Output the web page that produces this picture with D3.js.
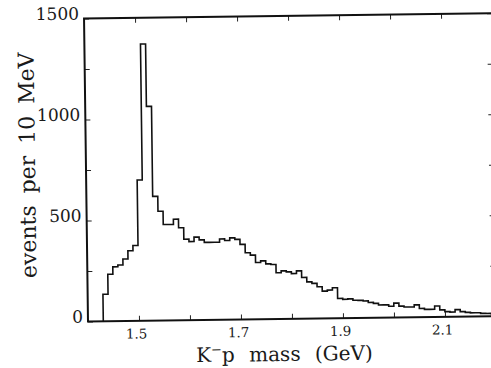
<!DOCTYPE html>
<html>
<head>
<meta charset="utf-8">
<script src="https://cdn.jsdelivr.net/npm/d3@7"></script>
<style>
    body { margin: 0; background: #fff; }
    svg { display: block; }
    text { font-family: 'DejaVu Serif', serif; fill: #1a1a1a; }
    .tick line { stroke: #222; stroke-width: 1; }
</style>
</head>
<body>
<script>
// Lower edge of every 10 MeV bin of the K-p mass (GeV)
const binLow = [
    1.43, 1.44, 1.45, 1.46, 1.47, 1.48, 1.49, 1.50, 1.51, 1.52,
    1.53, 1.54, 1.55, 1.56, 1.57, 1.58, 1.59, 1.60, 1.61, 1.62,
    1.63, 1.64, 1.65, 1.66, 1.67, 1.68, 1.69, 1.70, 1.71, 1.72,
    1.73, 1.74, 1.75, 1.76, 1.77, 1.78, 1.79, 1.80, 1.81, 1.82,
    1.83, 1.84, 1.85, 1.86, 1.87, 1.88, 1.89, 1.90, 1.91, 1.92,
    1.93, 1.94, 1.95, 1.96, 1.97, 1.98, 1.99, 2.00, 2.01, 2.02,
    2.03, 2.04, 2.05, 2.06, 2.07, 2.08, 2.09, 2.10, 2.11, 2.12,
    2.13, 2.14, 2.15, 2.16, 2.17, 2.18, 2.19
];
const lastEdge = 2.20; // upper edge of the last bin

// Events in each bin
const events = [
    134, 233, 269, 278, 307, 348, 373, 697, 1370, 1061,
    615, 541, 475, 475, 501, 458, 401, 389, 411, 397,
    384, 384, 384, 400, 392, 405, 397, 372, 330, 318,
    281, 289, 274, 270, 229, 238, 233, 224, 237, 204,
    182, 174, 157, 135, 140, 151, 98, 93, 95, 88,
    87, 84, 76, 71, 63, 63, 56, 71, 56, 51,
    51, 61, 43, 38, 38, 54, 35, 26, 23, 35,
    25, 21, 18, 18, 15, 14, 12
];

// Axis ticks and labels
const xDomain = [1.4, 2.2];
const yDomain = [0, 1500];
const xTickValues = [1.5, 1.6, 1.7, 1.8, 1.9, 2.0, 2.1];
const xTickLabels = ['1.5', '1.7', '1.9', '2.1'];
const yTickValues = [0, 250, 500, 750, 1000, 1250, 1500];
const yTickLabels = [0, 500, 1000, 1500];

const margin = { top: 18.5, left: 88 };
const width = 408;
const height = 303;

const svg = d3.select('body').append('svg').attr('width', 491).attr('height', 368);

// the scanned figure is slightly tilted, so rotate the whole plot a bit
const g = svg
    .append('g')
    .attr('transform', `translate(${margin.left},${margin.top}) rotate(-0.75, 0, ${height})`);

// Scales
const xscale = d3.scaleLinear().domain(xDomain).range([0, width]);
const yscale = d3.scaleLinear().domain(yDomain).range([height, 0]);

// Axes, all ticks point inward
const xaxis = d3
    .axisBottom(xscale)
    .tickValues(xTickValues)
    .tickSize(-5)
    .tickPadding(8)
    .tickFormat((d) => (xTickLabels.includes(d.toFixed(1)) ? d.toFixed(1) : ''));
const g_xaxis = g.append('g').attr('transform', `translate(0,${height})`).call(xaxis);
g_xaxis.selectAll('text').attr('dx', -3).style('font-size', '13.5px');

const yaxis = d3
    .axisLeft(yscale)
    .tickValues(yTickValues)
    .tickSize(-5)
    .tickPadding(5)
    .tickFormat((d) => (yTickLabels.includes(d) ? d : ''));
const g_yaxis = g.append('g').call(yaxis);
g_yaxis.selectAll('text').attr('y', -5).style('font-size', '17px');

const g_top = g.append('g').call(d3.axisTop(xscale).tickValues(xTickValues).tickSize(-5).tickFormat(''));
const g_right = g
    .append('g')
    .attr('transform', `translate(${width},0)`)
    .call(d3.axisRight(yscale).tickValues(yTickValues).tickSize(-5).tickFormat(''));

[g_xaxis, g_yaxis, g_top, g_right].forEach((a) => {
    a.select('.domain').remove();
    a.attr('font-family', null).attr('font-size', null);
});

// Frame
g.append('rect')
    .attr('width', width)
    .attr('height', height)
    .attr('fill', 'none')
    .attr('stroke', '#111')
    .attr('stroke-width', 2);

// Histogram as a step line
const steps = [[binLow[0], 0]]
    .concat(binLow.map((m, i) => [m, events[i]]))
    .concat([[lastEdge, events[events.length - 1]]]);

const line = d3
    .line()
    .x((d) => xscale(d[0]))
    .y((d) => yscale(d[1]))
    .curve(d3.curveStepAfter);

g.append('path')
    .datum(steps)
    .attr('d', line)
    .attr('fill', 'none')
    .attr('stroke', '#111')
    .attr('stroke-width', 1.6);

// Axis titles
const xtitle = g
    .append('text')
    .attr('x', 196)
    .attr('y', height + 42)
    .attr('text-anchor', 'middle')
    .style('font-size', '20px')
    .style('word-spacing', '8px');
xtitle.append('tspan').text('K');
xtitle.append('tspan').attr('dy', -8).style('font-size', '13px').text('\u2212');
xtitle.append('tspan').attr('dy', 8).text('p mass (GeV)');

g.append('text')
    .attr('transform', `translate(-51,146) rotate(-90)`)
    .attr('text-anchor', 'middle')
    .style('font-size', '22px')
    .style('word-spacing', '5px')
    .text('events per 10 MeV');
</script>
</body>
</html>
